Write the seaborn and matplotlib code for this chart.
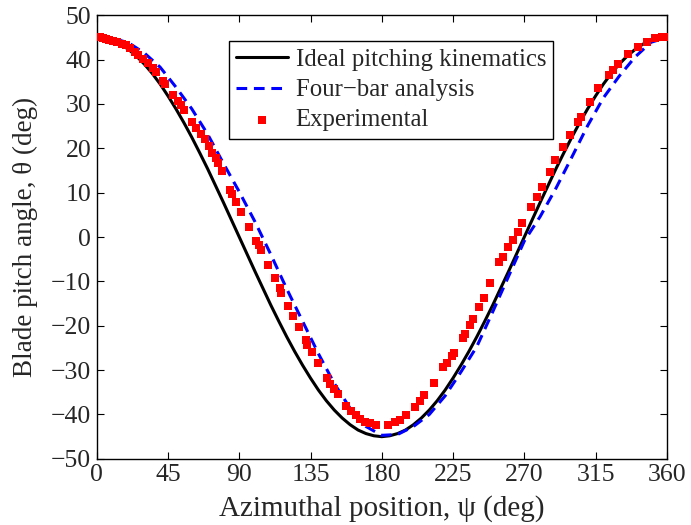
import numpy as np
import pandas as pd
import matplotlib
matplotlib.use("Agg")
import matplotlib.pyplot as plt
import seaborn as sns

# --- DATA ---
ideal_psi = list(range(0, 365, 5))
ideal_theta = [45.0, 44.8, 44.3, 43.5, 42.3, 40.8, 39.0, 36.9, 34.5, 31.8,
               28.9, 25.8, 22.5, 19.0, 15.4, 11.6, 7.8, 3.9, 0.0, -3.9,
               -7.8, -11.6, -15.4, -19.0, -22.5, -25.8, -28.9, -31.8, -34.5, -36.9,
               -39.0, -40.8, -42.3, -43.5, -44.3, -44.8, -45.0, -44.8, -44.3, -43.5,
               -42.3, -40.8, -39.0, -36.9, -34.5, -31.8, -28.9, -25.8, -22.5, -19.0,
               -15.4, -11.6, -7.8, -3.9, 0.0, 3.9, 7.8, 11.6, 15.4, 19.0,
               22.5, 25.8, 28.9, 31.8, 34.5, 36.9, 39.0, 40.8, 42.3, 43.5,
               44.3, 44.8, 45.0]

fourbar_psi = list(range(0, 365, 10))
fourbar_theta = [45.0, 44.8, 43.8, 41.5, 38.3, 33.8, 28.9, 23.2, 16.6, 10.2,
                 3.4, -4.0, -11.7, -19.0, -26.3, -33.0, -38.6, -42.7, -44.7, -44.5,
                 -42.7, -40.0, -35.8, -30.4, -24.7, -16.9, -8.9, -0.9, 4.6, 11.0,
                 18.0, 25.1, 31.4, 36.3, 40.6, 43.9, 45.0]

exp_psi = [0.5, 2, 4, 6, 8, 10.3, 13, 16, 18.7, 21, 24, 26.1, 29, 32.2, 35.6,
           37.7, 41.9, 43, 48.2, 51.4, 53, 55.4, 60.3, 62.9, 65.6, 68.2, 71, 72.5,
           75.2, 76.6, 79.4, 84.0, 85.5, 88.2, 91.4, 96.1, 100.8, 102.5, 103.6, 108.2,
           112.4, 115.6, 116.6, 120.8, 124.0, 127.6, 132.0, 132.9, 136.0, 139.8,
           145.7, 147.6, 149.7, 152.1, 157.5, 160.3, 163.5, 166.1, 169.3, 172.5,
           176.2, 184.0, 188.3, 191.8, 195.6, 200.9, 204.0, 206.8, 212.9, 218.8,
           220.9, 224.1, 225.5, 231.4, 232.5, 235.6, 237.7, 241.5, 244.5, 248.3,
           254.1, 256.7, 259.8, 263.0, 266.1, 268.3, 274.5, 277.8, 280.9, 286.2,
           289.3, 294.6, 298.8, 304.0, 306.1, 311.4, 316.7, 323.6, 326.1, 329.3,
           335.6, 341.9, 347.2, 352.5, 356.7, 359.0]
exp_theta = [45.0, 45.0, 44.9, 44.7, 44.5, 44.3, 44.0, 43.5, 43.2, 42.5, 41.7, 41.0, 40.2, 39.3, 38.0,
             37.2, 35.2, 34.5, 32.1, 30.6, 29.8, 28.6, 26.0, 24.5, 23.2, 22.0, 20.5, 19.0,
             17.8, 16.8, 14.8, 10.6, 9.8, 8.0, 5.7, 2.3, -0.8, -1.8, -2.9, -6.3,
             -9.2, -11.6, -12.7, -15.5, -17.8, -20.3, -23.2, -24.3, -26.0, -28.4,
             -31.8, -33.1, -34.3, -35.4, -38.1, -39.2, -40.2, -41.1, -41.6, -42.0,
             -42.3, -42.3, -41.7, -41.2, -40.2, -38.4, -36.9, -35.6, -32.8, -29.3,
             -28.4, -26.8, -26.1, -22.8, -21.8, -19.8, -18.5, -15.8, -13.8, -10.4,
             -5.6, -4.4, -2.2, -0.7, 1.2, 3.2, 6.8, 9.1, 11.3, 14.7,
             17.3, 20.3, 23.0, 26.0, 27.1, 30.5, 33.5, 36.5, 37.6, 39.1,
             41.2, 42.9, 44.0, 44.8, 45.0, 45.0]

xticks = list(range(0, 361, 45))
yticks = list(range(-50, 51, 10))

df_ideal = pd.DataFrame({"psi": ideal_psi, "theta": ideal_theta})
df_four = pd.DataFrame({"psi": fourbar_psi, "theta": fourbar_theta})
df_exp = pd.DataFrame({"psi": exp_psi, "theta": exp_theta})

sns.set_theme(style="ticks")
plt.rcParams["font.family"] = ["Liberation Serif", "DejaVu Serif"]
plt.rcParams["xtick.direction"] = "in"
plt.rcParams["ytick.direction"] = "in"

fig = plt.figure(figsize=(6.91, 5.25), dpi=100)
ax = fig.add_axes([0.140, 0.126, 0.825, 0.845])

sns.lineplot(data=df_ideal, x="psi", y="theta", ax=ax, color="black",
             linewidth=2.2, label="Ideal pitching kinematics", sort=False)
sns.lineplot(data=df_four, x="psi", y="theta", ax=ax, color="#0000ff",
             linewidth=2.2, linestyle=(0, (3.5, 2.2)), label="Four\u2212bar analysis", sort=False)
sns.scatterplot(data=df_exp, x="psi", y="theta", ax=ax, color="#ff0000",
                marker="s", s=38, linewidth=0, label="Experimental", zorder=3)

ax.set_xlim(0, 360)
ax.set_ylim(-50, 50)
ax.set_xticks(xticks)
ax.set_yticks(yticks)
ax.tick_params(axis="both", which="both", labelsize=18.5, top=True, right=True,
               length=5, width=0.8, color="black", pad=4)
for sp in ax.spines.values():
    sp.set_linewidth(1.0)
    sp.set_color("black")

ax.set_xlabel("Azimuthal position, \u03c8 (deg)", fontsize=21, labelpad=6)
ax.set_ylabel("Blade pitch angle, \u03b8 (deg)", fontsize=19.5, labelpad=9)

leg = ax.legend(loc="upper left", bbox_to_anchor=(0.2316, 0.9414), borderaxespad=0,
                fontsize=17.8, frameon=True, fancybox=False, edgecolor="black",
                framealpha=1, handlelength=2.1, borderpad=0.3, labelspacing=0.32,
                handletextpad=0.3)
leg.get_frame().set_linewidth(1.0)

fig.savefig("out.png", dpi=100)
